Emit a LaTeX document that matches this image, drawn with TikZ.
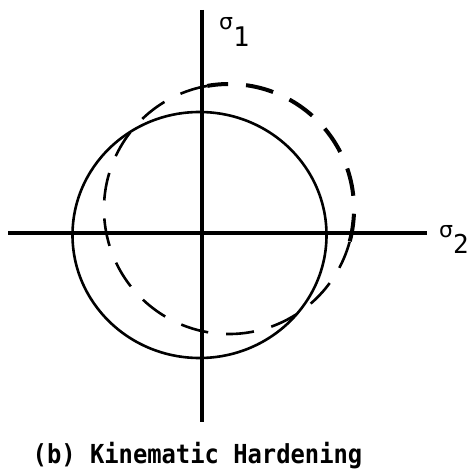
\documentclass[tikz,border=0pt]{standalone}
\usepackage{fontspec}
\newfontfamily\capfont{DejaVu Sans Mono}
\newfontfamily\sigfont{DejaVu Sans}
\begin{document}
\begin{tikzpicture}[x=1pt,y=-1pt,
  axis/.style={line width=4pt},
  yieldline/.style={line width=2.6pt},
  shiftedline/.style={dash pattern=on 28pt off 18pt},
  lbl/.style={anchor=base west, inner sep=0pt}]
\useasboundingbox (0,0) rectangle (470,470);
\coordinate (top) at (202,10);
\coordinate (bot) at (202,422);
\coordinate (left) at (8,233);
\coordinate (right) at (427,233);
\draw[axis] (top) -- (bot);
\draw[axis] (left) -- (right);
% initial yield surface
\coordinate (O1) at (199.5,235);
\draw[yieldline] (O1) ellipse [x radius=127, y radius=123];
% translated yield surface
\coordinate (O2) at (229,209);
\draw[shiftedline, line width=4pt] (O2) ++(15:125) arc[start angle=15, end angle=-100, radius=125];
\draw[shiftedline, line width=2.6pt] (O2) ++(-100:125) arc[start angle=-100, end angle=-345, radius=125];
% labels
\node[lbl] (s1) at (219,47) {\sigfont\fontsize{22}{22}\selectfont\raisebox{17pt}{σ}\capfont\fontsize{27}{27}\selectfont 1};
\node[lbl] (s2) at (439,253) {\sigfont\fontsize{22}{22}\selectfont\raisebox{16pt}{σ}\capfont\fontsize{26}{26}\selectfont 2};
\node[anchor=base, inner sep=0pt, font=\capfont\bfseries\fontsize{23.8}{28}\selectfont] (cap) at (197.5,463) {\scalebox{1}[1.1]{(b) Kinematic Hardening}};
\end{tikzpicture}
\end{document}
